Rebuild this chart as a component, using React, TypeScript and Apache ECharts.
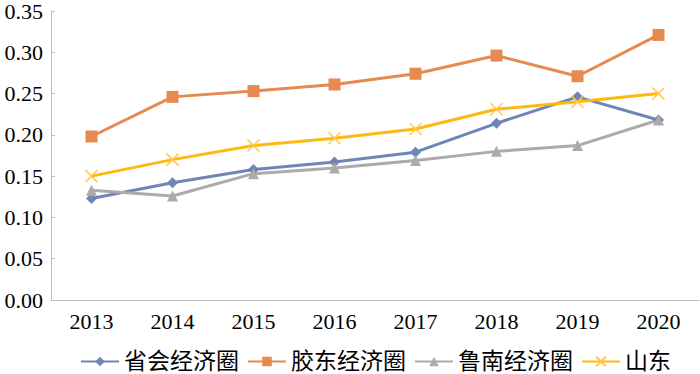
import React, { useEffect, useRef } from "react";
import * as echarts from "echarts";

const years = ["2013", "2014", "2015", "2016", "2017", "2018", "2019", "2020"];
const seriesNames = ["省会经济圈", "胶东经济圈", "鲁南经济圈", "山东"];
const shenghui = [0.123, 0.142, 0.158, 0.167, 0.179, 0.214, 0.246, 0.218];
const jiaodong = [0.198, 0.246, 0.253, 0.261, 0.274, 0.296, 0.271, 0.321];
const lunan = [0.133, 0.126, 0.153, 0.160, 0.169, 0.180, 0.187, 0.218];
const shandong = [0.150, 0.170, 0.187, 0.196, 0.207, 0.231, 0.240, 0.250];
const colors = ["#6E86B6", "#E68A4F", "#ABABAB", "#FFB80E"];

const crossPath = "path://M0,0L10,10M10,0L0,10";

export default function App() {
  const ref = useRef<HTMLDivElement>(null);
  useEffect(() => {
    if (!ref.current) return;
    const chart = echarts.init(ref.current, undefined, { renderer: "svg" });
    const serif = "'Liberation Serif', 'Times New Roman', 'Noto Sans CJK SC', serif";
    const datas = [shenghui, jiaodong, lunan, shandong];
    const symbols = ["diamond", "rect", "triangle", crossPath];
    const sizes = [11, 12, 11, 12];
    chart.setOption({
      animation: false,
      color: colors,
      grid: { left: 51, right: 1, top: 10, bottom: 74, containLabel: false },
      legend: {
        top: 350,
        left: 80,
        padding: 0,
        itemWidth: 38,
        itemHeight: 12,
        itemGap: 8,
        textStyle: { fontFamily: serif, fontSize: 23, lineHeight: 23, color: "#000" },
        data: seriesNames,
      },
      xAxis: {
        type: "category",
        data: years,
        boundaryGap: true,
        axisLine: { lineStyle: { color: "#BFBFBF", width: 1 } },
        axisTick: { inside: true, length: 5, lineStyle: { color: "#BFBFBF" } },
        axisLabel: { color: "#000", fontFamily: serif, fontSize: 22, margin: 10 },
        splitLine: { show: false },
      },
      yAxis: {
        type: "value",
        min: 0,
        max: 0.35,
        interval: 0.05,
        axisLine: { show: true, lineStyle: { color: "#BFBFBF", width: 1 } },
        axisTick: { show: true, inside: true, length: 4, lineStyle: { color: "#BFBFBF" } },
        axisLabel: {
          color: "#000",
          fontFamily: serif,
          fontSize: 22,
          margin: 8,
          formatter: (v: number) => v.toFixed(2),
        },
        splitLine: { show: false },
      },
      series: seriesNames.map((name, i) => ({
        name,
        type: "line",
        data: datas[i],
        symbol: symbols[i],
        symbolSize: sizes[i],
        showSymbol: true,
        lineStyle: { width: 3, color: colors[i] },
        itemStyle:
          i === 3
            ? { color: "transparent", borderColor: "#FFC84A", borderWidth: 1.5 }
            : { color: colors[i], borderColor: colors[i], borderWidth: 0 },
      })),
    });
    return () => chart.dispose();
  }, []);
  return (
    <div
      ref={ref}
      style={{ position: "fixed", left: 0, top: 0, width: 700, height: 374, background: "#fff" }}
    />
  );
}
